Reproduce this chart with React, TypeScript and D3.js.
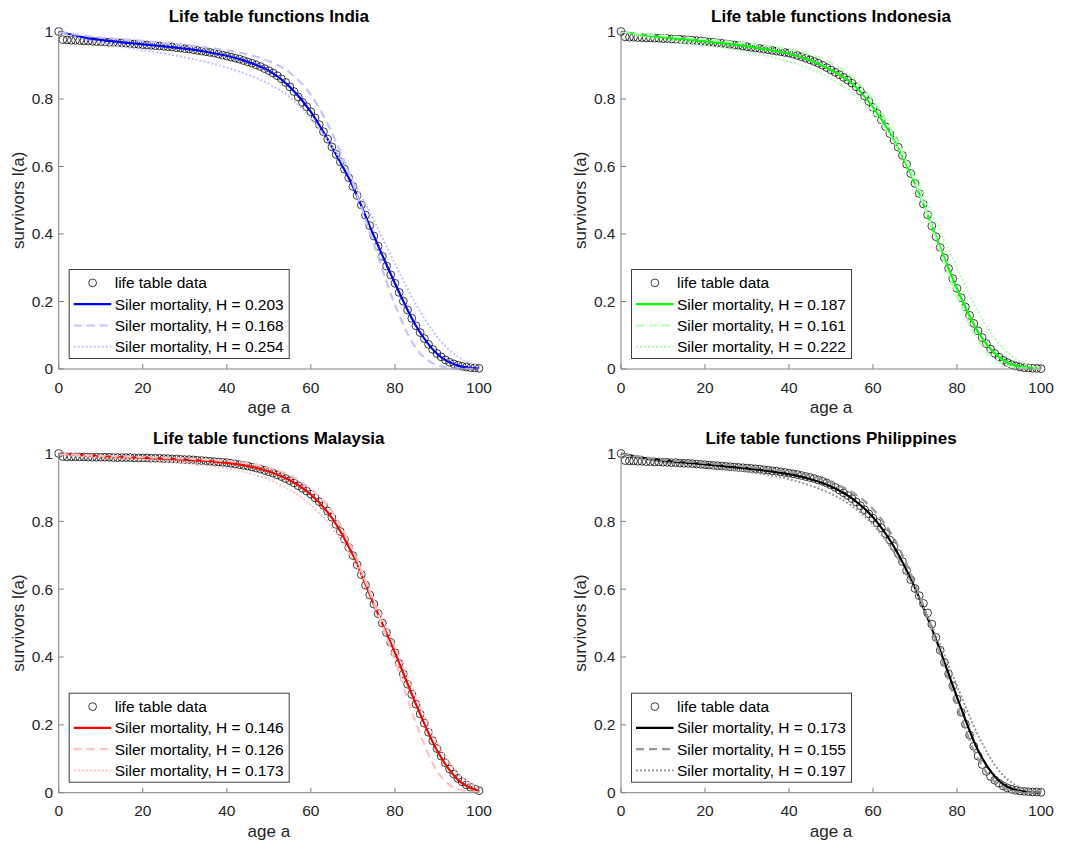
import React from "react";
import * as d3 from "d3";

const width = 1075,
  height = 847;

const FONT = "'Liberation Sans', Arial, Helvetica, sans-serif";

// ages of the life table (one circle per year) and of the fitted curves
const AGES = d3.range(0, 101);
const FIT_AGES = [0, 5, 10, 15, 20, 25, 30, 35, 40, 45, 50, 55, 60, 65, 70, 75, 80, 85, 90, 95, 100];

// life table data l(a)
const indiaData = [
  1.0, 0.976, 0.975, 0.974, 0.974, 0.973, 0.972, 0.972, 0.971, 0.97, 0.97,
  0.969, 0.968, 0.968, 0.967, 0.966, 0.965, 0.964, 0.963, 0.962, 0.961,
  0.96, 0.959, 0.958, 0.957, 0.956, 0.955, 0.954, 0.952, 0.951, 0.949,
  0.948, 0.946, 0.944, 0.942, 0.94, 0.938, 0.936, 0.933, 0.93, 0.927,
  0.924, 0.921, 0.918, 0.914, 0.91, 0.906, 0.901, 0.896, 0.89, 0.884,
  0.877, 0.869, 0.86, 0.849, 0.836, 0.822, 0.806, 0.79, 0.777, 0.762,
  0.744, 0.724, 0.703, 0.681, 0.658, 0.636, 0.614, 0.592, 0.567, 0.541,
  0.514, 0.486, 0.456, 0.425, 0.394, 0.364, 0.334, 0.305, 0.279, 0.254,
  0.227, 0.201, 0.175, 0.15, 0.128, 0.108, 0.09, 0.073, 0.058, 0.046,
  0.036, 0.027, 0.02, 0.015, 0.011, 0.008, 0.006, 0.004, 0.003, 0.002,
];
const indonesiaData = [
  1.0, 0.984, 0.983, 0.983, 0.982, 0.982, 0.981, 0.981, 0.98, 0.98, 0.979,
  0.979, 0.978, 0.977, 0.977, 0.976, 0.975, 0.974, 0.973, 0.972, 0.97,
  0.969, 0.968, 0.966, 0.965, 0.963, 0.962, 0.96, 0.959, 0.957, 0.955,
  0.953, 0.951, 0.95, 0.948, 0.946, 0.944, 0.942, 0.94, 0.938, 0.936,
  0.933, 0.929, 0.925, 0.921, 0.916, 0.911, 0.906, 0.9, 0.893, 0.886,
  0.879, 0.872, 0.864, 0.856, 0.847, 0.836, 0.823, 0.809, 0.793, 0.775,
  0.757, 0.738, 0.718, 0.698, 0.678, 0.657, 0.633, 0.607, 0.579, 0.55,
  0.52, 0.489, 0.457, 0.424, 0.392, 0.36, 0.329, 0.298, 0.268, 0.239,
  0.211, 0.184, 0.159, 0.135, 0.113, 0.093, 0.075, 0.059, 0.046, 0.035,
  0.026, 0.019, 0.013, 0.009, 0.006, 0.004, 0.003, 0.002, 0.002, 0.001,
];
const malaysiaData = [
  1.0, 0.991, 0.99, 0.99, 0.99, 0.99, 0.99, 0.989, 0.989, 0.989, 0.989,
  0.989, 0.989, 0.988, 0.988, 0.988, 0.988, 0.988, 0.987, 0.987, 0.987,
  0.987, 0.986, 0.986, 0.986, 0.985, 0.985, 0.984, 0.984, 0.983, 0.982,
  0.982, 0.981, 0.98, 0.979, 0.978, 0.977, 0.976, 0.975, 0.974, 0.973,
  0.971, 0.969, 0.967, 0.965, 0.963, 0.96, 0.957, 0.954, 0.95, 0.946,
  0.942, 0.937, 0.932, 0.926, 0.92, 0.913, 0.905, 0.897, 0.889, 0.88,
  0.869, 0.858, 0.847, 0.83, 0.812, 0.791, 0.77, 0.747, 0.723, 0.699,
  0.672, 0.643, 0.612, 0.583, 0.556, 0.528, 0.5, 0.472, 0.443, 0.413,
  0.381, 0.35, 0.32, 0.29, 0.261, 0.232, 0.205, 0.178, 0.153, 0.13,
  0.108, 0.088, 0.07, 0.055, 0.042, 0.032, 0.023, 0.016, 0.011, 0.006,
];
const philippinesData = [
  1.0, 0.979, 0.978, 0.978, 0.977, 0.977, 0.976, 0.976, 0.975, 0.975, 0.974,
  0.974, 0.973, 0.973, 0.972, 0.971, 0.971, 0.97, 0.969, 0.968, 0.967,
  0.966, 0.965, 0.964, 0.963, 0.962, 0.961, 0.96, 0.959, 0.958, 0.957,
  0.956, 0.955, 0.954, 0.952, 0.951, 0.949, 0.948, 0.946, 0.944, 0.942,
  0.94, 0.938, 0.935, 0.932, 0.929, 0.926, 0.922, 0.918, 0.913, 0.907,
  0.9, 0.892, 0.884, 0.876, 0.867, 0.857, 0.846, 0.834, 0.822, 0.809,
  0.796, 0.781, 0.764, 0.745, 0.726, 0.705, 0.681, 0.655, 0.628, 0.602,
  0.581, 0.558, 0.53, 0.497, 0.458, 0.42, 0.384, 0.35, 0.315, 0.276,
  0.237, 0.202, 0.17, 0.137, 0.108, 0.083, 0.063, 0.048, 0.037, 0.028,
  0.02, 0.014, 0.01, 0.007, 0.005, 0.004, 0.003, 0.002, 0.002, 0.001,
];

// Siler fits at FIT_AGES: best fit (solid), low H (dashed), high H (dotted)
const indiaSolid = [1, 0.985, 0.975, 0.968, 0.962, 0.956, 0.949, 0.94, 0.928, 0.91, 0.884, 0.836, 0.762, 0.658, 0.541, 0.394, 0.254, 0.128, 0.045, 0.01, 0.001];
const indiaDashed = [1, 0.99, 0.982, 0.977, 0.972, 0.966, 0.96, 0.953, 0.944, 0.932, 0.912, 0.878, 0.812, 0.7, 0.55, 0.37, 0.19, 0.062, 0.012, 0.001, 0];
const indiaDotted = [1, 0.98, 0.965, 0.955, 0.945, 0.935, 0.923, 0.91, 0.893, 0.872, 0.845, 0.805, 0.742, 0.66, 0.558, 0.44, 0.312, 0.192, 0.096, 0.036, 0.01];

const indonesiaSolid = [1, 0.99, 0.983, 0.977, 0.971, 0.964, 0.956, 0.946, 0.934, 0.915, 0.886, 0.846, 0.776, 0.678, 0.55, 0.392, 0.238, 0.11, 0.035, 0.007, 0.001];
const indonesiaDashed = [1, 0.992, 0.987, 0.982, 0.977, 0.971, 0.965, 0.957, 0.947, 0.932, 0.907, 0.866, 0.797, 0.695, 0.555, 0.385, 0.215, 0.085, 0.02, 0.003, 0];
const indonesiaDotted = [1, 0.985, 0.976, 0.968, 0.96, 0.951, 0.94, 0.927, 0.911, 0.89, 0.86, 0.818, 0.758, 0.675, 0.565, 0.435, 0.3, 0.17, 0.075, 0.022, 0.004];

const malaysiaSolid = [1, 0.995, 0.991, 0.989, 0.987, 0.985, 0.982, 0.978, 0.972, 0.963, 0.947, 0.921, 0.879, 0.81, 0.7, 0.555, 0.413, 0.261, 0.125, 0.038, 0.005];
const malaysiaDashed = [1, 0.996, 0.993, 0.991, 0.989, 0.987, 0.985, 0.982, 0.978, 0.971, 0.958, 0.936, 0.895, 0.83, 0.715, 0.56, 0.39, 0.205, 0.065, 0.01, 0.001];
const malaysiaDotted = [1, 0.993, 0.988, 0.985, 0.981, 0.977, 0.972, 0.965, 0.956, 0.943, 0.923, 0.893, 0.848, 0.782, 0.69, 0.568, 0.43, 0.285, 0.15, 0.058, 0.013];

const philippinesSolid = [1, 0.988, 0.979, 0.973, 0.968, 0.962, 0.956, 0.949, 0.939, 0.925, 0.903, 0.868, 0.812, 0.725, 0.603, 0.452, 0.282, 0.125, 0.035, 0.005, 0];
const philippinesDashed = [1, 0.99, 0.982, 0.977, 0.972, 0.967, 0.961, 0.954, 0.946, 0.934, 0.915, 0.886, 0.836, 0.75, 0.615, 0.445, 0.255, 0.1, 0.022, 0.002, 0];
const philippinesDotted = [1, 0.985, 0.975, 0.968, 0.961, 0.954, 0.946, 0.937, 0.924, 0.906, 0.881, 0.845, 0.79, 0.708, 0.598, 0.465, 0.315, 0.17, 0.065, 0.016, 0.002];

const countries = ["India", "Indonesia", "Malaysia", "Philippines"];
const hValues = [
  ["0.203", "0.168", "0.254"],
  ["0.187", "0.161", "0.222"],
  ["0.146", "0.126", "0.173"],
  ["0.173", "0.155", "0.197"],
];

const panelData = [indiaData, indonesiaData, malaysiaData, philippinesData];
const panelFits = [
  [indiaSolid, indiaDashed, indiaDotted],
  [indonesiaSolid, indonesiaDashed, indonesiaDotted],
  [malaysiaSolid, malaysiaDashed, malaysiaDotted],
  [philippinesSolid, philippinesDashed, philippinesDotted],
];

// colours: strong line, pale line
const panelColors = [
  ["#0000ff", "#c4c4ff"],
  ["#00ff00", "#b8ffb8"],
  ["#ff0000", "#ffc4c4"],
  ["#000000", "#999999"],
];

// axes boxes in page pixels
const layouts = [
  { left: 58.7, right: 479, top: 31.5, bottom: 369 },
  { left: 621, right: 1041, top: 31.5, bottom: 369 },
  { left: 58.7, right: 479, top: 453.5, bottom: 792.7 },
  { left: 621, right: 1041, top: 453.5, bottom: 792.7 },
];

const dashes = [null, "8,5", "2,2"];

function Panel({ idx }: { idx: number }) {
  const L = layouts[idx];
  const x = d3.scaleLinear().domain([0, 100]).range([L.left, L.right]);
  const y = d3.scaleLinear().domain([0, 1]).range([L.bottom, L.top]);
  const fmt = d3.format("~g");
  const line = d3
    .line<number>()
    .x((d, i) => x(FIT_AGES[i]))
    .y(d => y(d))
    .curve(d3.curveMonotoneX);

  const [strong, pale] = panelColors[idx];
  const colors = [strong, pale, pale];
  const data = panelData[idx];
  const fits = panelFits[idx];

  const axisColor = "#808080";
  const textColor = "#262626";

  //图例
  const lgX = L.left + 10.5,
    lgW = 220,
    lgH = 89,
    lgY = L.bottom - 10.5 - lgH;
  const rowY = (k: number) => lgY + 13.4 + k * 21.3;
  const labels = [
    "life table data",
    ...hValues[idx].map(h => `Siler mortality, H = ${h}`),
  ];

  return (
    <g fontFamily={FONT}>
      {/* data circles */}
      <g fill="none" stroke="#000" strokeWidth={0.75}>
        {data.map((v, i) => (
          <circle key={i} cx={x(AGES[i])} cy={y(v)} r={3.9} />
        ))}
      </g>
      {/* fitted curves */}
      {fits.map((f, k) => (
        <path
          key={k}
          d={line(f) || ""}
          fill="none"
          stroke={colors[k]}
          strokeWidth={k === 2 ? 2 : 2.2}
          strokeDasharray={dashes[k] || undefined}
        />
      ))}
      {/* axes */}
      <g stroke={axisColor} strokeWidth={1}>
        <line x1={L.left} x2={L.right} y1={L.bottom} y2={L.bottom} />
        <line x1={L.left} x2={L.left} y1={L.top} y2={L.bottom} />
        {x.ticks(5).map(t => (
          <line key={"xt" + t} x1={x(t)} x2={x(t)} y1={L.bottom} y2={L.bottom - 5} />
        ))}
        {y.ticks(5).map(t => (
          <line key={"yt" + t} x1={L.left} x2={L.left + 5} y1={y(t)} y2={y(t)} />
        ))}
      </g>
      <g fill={textColor} fontSize={15.5}>
        {x.ticks(5).map(t => (
          <text key={"xl" + t} x={x(t)} y={L.bottom + 23.5} textAnchor="middle">
            {fmt(t)}
          </text>
        ))}
        {y.ticks(5).map(t => (
          <text key={"yl" + t} x={L.left - 5.5} y={y(t)} dy="0.35em" textAnchor="end">
            {fmt(t)}
          </text>
        ))}
      </g>
      <text
        x={(L.left + L.right) / 2}
        y={L.bottom + 44}
        textAnchor="middle"
        fontSize={17}
        fill={textColor}
      >
        age a
      </text>
      <text
        transform={`translate(${L.left - 35},${(L.top + L.bottom) / 2}) rotate(-90)`}
        textAnchor="middle"
        fontSize={17}
        fill={textColor}
      >
        survivors l(a)
      </text>
      <text
        x={(L.left + L.right) / 2}
        y={L.top - 9.5}
        textAnchor="middle"
        fontSize={17}
        fontWeight="bold"
        fill="#000"
      >
        {`Life table functions ${countries[idx]}`}
      </text>
      {/* legend */}
      <rect x={lgX} y={lgY} width={lgW} height={lgH} fill="#fff" stroke="#404040" strokeWidth={1} />
      <circle cx={lgX + 23.4} cy={rowY(0)} r={3.9} fill="none" stroke="#000" strokeWidth={0.75} />
      {[0, 1, 2].map(k => (
        <line
          key={"lg" + k}
          x1={lgX + 4.5}
          x2={lgX + 42}
          y1={rowY(k + 1)}
          y2={rowY(k + 1)}
          stroke={colors[k]}
          strokeWidth={k === 2 ? 2 : 2.2}
          strokeDasharray={dashes[k] || undefined}
        />
      ))}
      {labels.map((s, k) => (
        <text key={"lt" + k} x={lgX + 45.5} y={rowY(k)} dy="0.35em" fontSize={15.5} fill="#000">
          {s}
        </text>
      ))}
    </g>
  );
}

export default function App() {
  return (
    <svg
      width={width}
      height={height}
      style={{ position: "absolute", left: 0, top: 0, background: "#fff" }}
    >
      <rect width={width} height={height} fill="#fff" />
      {[0, 1, 2, 3].map(i => (
        <Panel key={i} idx={i} />
      ))}
    </svg>
  );
}
